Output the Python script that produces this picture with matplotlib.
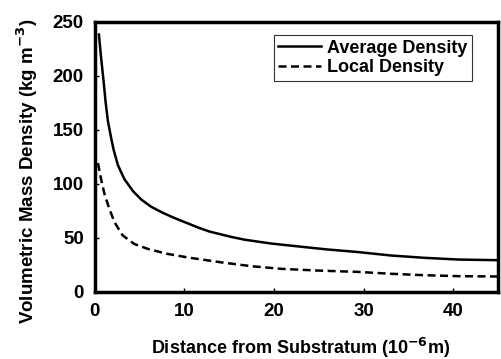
import matplotlib
matplotlib.use("Agg")
import matplotlib.pyplot as plt

plt.rcParams["font.family"] = ["Liberation Sans", "DejaVu Sans"]
plt.rcParams["font.weight"] = "bold"
plt.rcParams["mathtext.default"] = "bf"

# values
avg_x = [0.45, 0.70, 0.97, 1.19, 1.45, 1.82, 2.1, 2.57, 3.3, 4.25, 5.2, 6.3, 7.6,
         8.9, 10.4, 11.6, 12.8, 15.2, 16.7, 19.7, 23.1, 26.0, 29.3, 33.1, 36.8,
         40.6, 45.0]
avg_y = [238, 216, 195, 176, 158, 142, 131, 117, 104, 93, 85, 78.4, 72.8,
         68, 63, 59, 55.5, 50.6, 48, 44.4, 41.4, 38.9, 36.6, 33.3, 31.2,
         29.6, 29.0]

loc_x = [0.34, 0.7, 1.08, 1.64, 2.2, 3.1, 4.4, 5.9, 8.0, 10.4, 14.1, 17.5,
         20.8, 24.9, 29.3, 33.1, 36.8, 40.6, 45.0]
loc_y = [119, 103.7, 90, 76, 64, 52, 44, 39.5, 35, 31.5, 27, 23.4,
         21, 19.4, 18.2, 16.4, 15.1, 14.2, 13.9]

xticks = [0, 10, 20, 30, 40]
yticks = [0, 50, 100, 150, 200, 250]

fig = plt.figure(figsize=(5.02, 3.59), dpi=100)
ax = fig.add_axes([0.189, 0.188, 0.803, 0.752])

ax.plot(avg_x, avg_y, color="black", lw=1.8, label="Average Density")
ax.plot(loc_x, loc_y, color="black", lw=1.8, ls=(0, (3.2, 1.8)), label="Local Density")

ax.set_xlim(0, 45)
ax.set_ylim(0, 250)
ax.set_xticks(xticks)
ax.set_yticks(yticks)
ax.tick_params(direction="in", length=3, width=1, labelsize=13.5, pad=8)
for lab in ax.get_xticklabels() + ax.get_yticklabels():
    lab.set_fontweight("bold")
for s in ax.spines.values():
    s.set_linewidth(2.5)

ax.set_xlabel("Distance from Substratum (10$^{-6}$m)", fontsize=13, fontweight="bold")
ax.set_ylabel("Volumetric Mass Density (kg m$^{-3}$)", fontsize=13.5, fontweight="bold")
ax.xaxis.set_label_coords(0.509, -0.165)
ax.yaxis.set_label_coords(-0.135, 0.445)

leg = ax.legend(loc="upper right", fontsize=13, frameon=True, fancybox=False,
                edgecolor="black", handlelength=2.4, handletextpad=0.3, borderpad=0.25,
                labelspacing=0.15, borderaxespad=0, bbox_to_anchor=(0.935, 0.95))
leg.get_frame().set_linewidth(0.8)
for t in leg.get_texts():
    t.set_fontweight("bold")

fig.savefig("out.png", dpi=100)
